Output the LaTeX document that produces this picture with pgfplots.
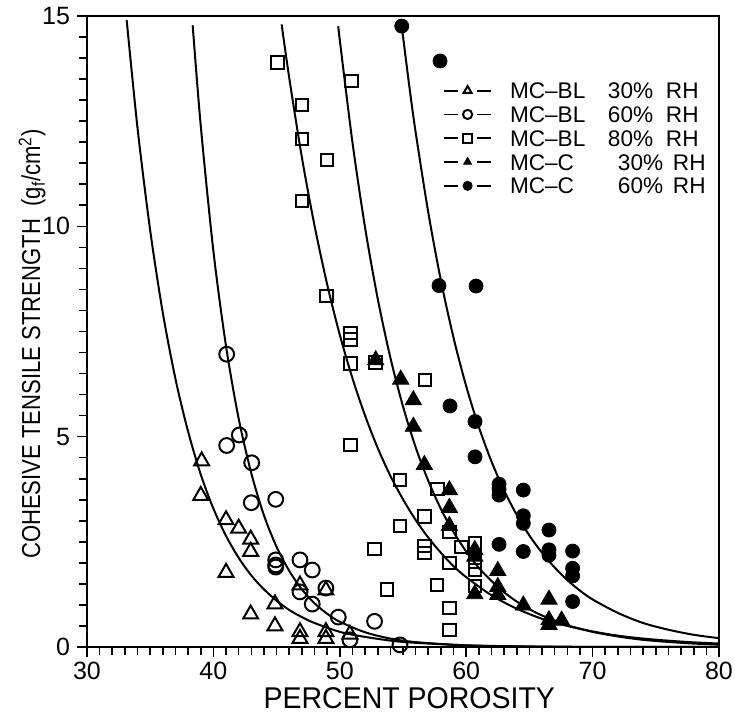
\documentclass[border=0pt]{standalone}
\usepackage{pgfplots}
\pgfplotsset{compat=1.18}
\usepackage{fontspec}
\setmainfont{Liberation Sans}
\usepackage{graphicx}
\begin{document}
\begin{tikzpicture}
\begin{axis}[
 scale only axis, width=316pt, height=315.5pt,
 xmin=30, xmax=80, ymin=0, ymax=15,
 xtick={30,40,50,60,70,80}, ytick={0,5,10,15},
 minor x tick num=9, minor y tick num=9,
 tick align=outside, xtick pos=bottom, ytick pos=left,
 major tick length=5pt, minor tick length=4pt,
 every tick/.style={black, line width=0.8pt},
 axis line style={line width=0.9pt},
 /pgf/number format/assume math mode=true,
 tick label style={font=\fontsize{12.5}{12.5}\selectfont},
 xticklabel style={yshift=1pt},
 xlabel={\scalebox{0.95}[1]{PERCENT POROSITY}},
 ylabel={\scalebox{0.85}[1]{COHESIVE TENSILE STRENGTH \ (g\textsubscript{f}/cm\textsuperscript{2})}},
 xlabel style={font=\fontsize{15}{15}\selectfont, at={(axis description cs:0.51,-0.081)}, anchor=center},
 ylabel style={font=\fontsize{13}{13}\selectfont, at={(axis description cs:-0.087,0.48)}, anchor=center},
 clip=false,
 legend style={draw=none, fill=none, at={(axis description cs:0.563,0.895)}, anchor=north west,
   inner sep=0pt, row sep=3.9pt, column sep=9pt, font=\fontsize{11.3}{11.3}\selectfont,
   nodes={inner sep=0pt, text height=8pt, text depth=0pt}},
 legend cell align=left,
 legend image code/.code={
   \draw[line width=0.9pt] (0pt,0pt) -- (7pt,0pt);
   \draw[line width=0.9pt] (16.5pt,0pt) -- (23.5pt,0pt);
   \draw[#1, mark size=2.3pt] plot coordinates {(11.75pt,0pt)};
 },
]
% fitted curves
\addplot[black, line width=1pt, smooth, forget plot] coordinates {
(33.14,14.9) (34,12.33) (35,9.90) (36,7.94) (37,6.37) (38,5.12) (39,4.10) (40,3.29) (41,2.64) (42,2.12) (43,1.70) (44,1.37) (45,1.10) (46,0.88) (47,0.71) (48,0.57) (50,0.36) (52,0.24) (55,0.12) (60,0.04) (65,0.013) (70,0.004) (80,0.0)};
\addplot[black, line width=1pt, smooth, forget plot] coordinates {
(38.36,14.78) (39,12.39) (40,9.41) (41,7.15) (42,5.43) (43,4.13) (44,3.13) (45,2.38) (46,1.81) (47,1.37) (48,1.04) (49,0.79) (50,0.60) (52,0.35) (54,0.20) (56,0.116) (60,0.038) (65,0.01) (70,0.003) (80,0.0)};
\addplot[black, line width=1pt, smooth, forget plot] coordinates {
(45.4,14.8) (46,13.53) (47,11.64) (48,10.02) (49,8.62) (50,7.42) (51,6.39) (52,5.50) (53,4.73) (54,4.07) (55,3.51) (56,3.02) (57,2.60) (58,2.24) (59,1.92) (60,1.66) (62,1.23) (64,0.91) (66,0.67) (68,0.50) (70,0.37) (72,0.27) (74,0.20) (76,0.15) (78,0.11) (80,0.082)};
\addplot[black, line width=1pt, smooth, forget plot] coordinates {
(49.88,14.75) (50,14.43) (51,12.0) (52,9.97) (53,8.28) (54,6.88) (55,5.72) (56,4.75) (57,3.95) (58,3.28) (59,2.73) (60,2.27) (61,1.88) (62,1.57) (63,1.30) (64,1.08) (65,0.90) (66,0.75) (68,0.52) (70,0.36) (72,0.25) (74,0.17) (76,0.12) (78,0.081) (80,0.056)};
\addplot[black, line width=1pt, smooth, forget plot] coordinates {
(54.9,14.76) (55.5,13.33) (56,12.24) (57,10.33) (58,8.71) (59,7.35) (60,6.20) (61,5.23) (62,4.41) (63,3.72) (64,3.14) (65,2.65) (66,2.24) (67,1.89) (68,1.59) (69,1.34) (70,1.13) (72,0.81) (74,0.57) (76,0.41) (78,0.29) (80,0.21)};
% data
\addplot[only marks, mark=triangle, mark size=4.3pt, mark options={fill=none, draw=black, line width=1pt}] coordinates {
(39.07,4.42) (39.0,3.60) (41.0,3.02) (42.0,2.82) (42.95,2.56) (42.95,2.27) (41.0,1.77) (44.87,1.02) (42.95,0.78) (44.87,0.50) (46.85,1.47) (46.85,0.36) (46.85,0.2) (48.9,1.35) (48.9,0.36) (48.9,0.2) (50.8,0.3)};
\addlegendentry{\makebox[49pt][l]{MC--BL}\makebox[29pt][l]{30\%}RH}
\addplot[only marks, mark=o, mark size=3.7pt, mark options={fill=none, draw=black, line width=1pt}] coordinates {
(41.05,6.96) (42.05,5.04) (41.05,4.79) (43.03,4.38) (43.0,3.43) (44.93,3.51) (44.93,2.07) (44.93,1.95) (44.93,1.90) (46.85,2.07) (47.82,1.83) (46.85,1.31) (48.9,1.40) (47.82,1.02) (49.88,0.71) (52.75,0.61) (50.8,0.17) (54.76,0.05)};
\addlegendentry{\makebox[49pt][l]{MC--BL}\makebox[29pt][l]{60\%}RH}
\addplot[only marks, mark=square, mark size=3.1pt, mark options={fill=none, draw=black, line width=1pt}] coordinates {
(45.06,13.89) (46.99,12.88) (47.03,12.08) (49.01,11.58) (46.99,10.60) (48.96,8.34) (50.94,13.46) (50.86,7.46) (50.86,7.31) (50.86,6.74) (52.84,6.76) (50.86,4.80) (54.76,3.97) (54.76,2.88) (52.75,2.33) (53.75,1.37) (56.74,6.35) (57.74,3.75) (56.69,3.10) (56.69,2.40) (56.69,2.24) (58.67,2.74) (59.64,2.38) (60.68,2.46) (60.68,2.03) (60.68,1.83) (60.68,1.45) (58.67,1.99) (57.71,1.47) (58.67,0.92) (58.67,0.40)};
\addlegendentry{\makebox[49pt][l]{MC--BL}\makebox[29pt][l]{80\%}RH}
\addplot[only marks, mark=triangle*, mark size=4.7pt, mark options={fill=black, draw=black}] coordinates {
(52.84,6.82) (54.82,6.36) (55.82,5.87) (55.82,5.24) (56.69,4.33) (58.67,3.73) (58.67,3.31) (58.67,2.88) (60.68,2.31) (60.68,2.15) (60.68,1.26) (62.5,1.81) (62.5,1.43) (62.5,1.24) (64.52,0.99) (66.55,1.13) (66.55,0.64) (66.55,0.53) (67.55,0.63)};
\addlegendentry{\makebox[54pt][l]{MC--C}\makebox[27.5pt][l]{30\%}RH}
\addplot[only marks, mark=*, mark size=3.5pt, mark options={fill=black, draw=black}] coordinates {
(54.9,14.76) (57.93,13.93) (57.85,8.59) (60.78,8.58) (58.72,5.73) (60.7,5.36) (60.7,4.52) (62.6,3.87) (62.6,3.75) (62.6,3.61) (64.52,3.73) (64.52,3.12) (64.52,2.94) (62.6,2.44) (64.52,2.27) (66.55,2.78) (66.55,2.31) (66.55,2.18) (68.42,2.28) (68.42,1.87) (68.42,1.69) (68.42,1.08)};
\addlegendentry{\makebox[54pt][l]{MC--C}\makebox[27.5pt][l]{60\%}RH}
\end{axis}
\pgfresetboundingbox
\path[use as bounding box] (current axis.south west) ++(-43.5pt,-37pt) rectangle ++(367.5pt,360.5pt);
\end{tikzpicture}
\end{document}
